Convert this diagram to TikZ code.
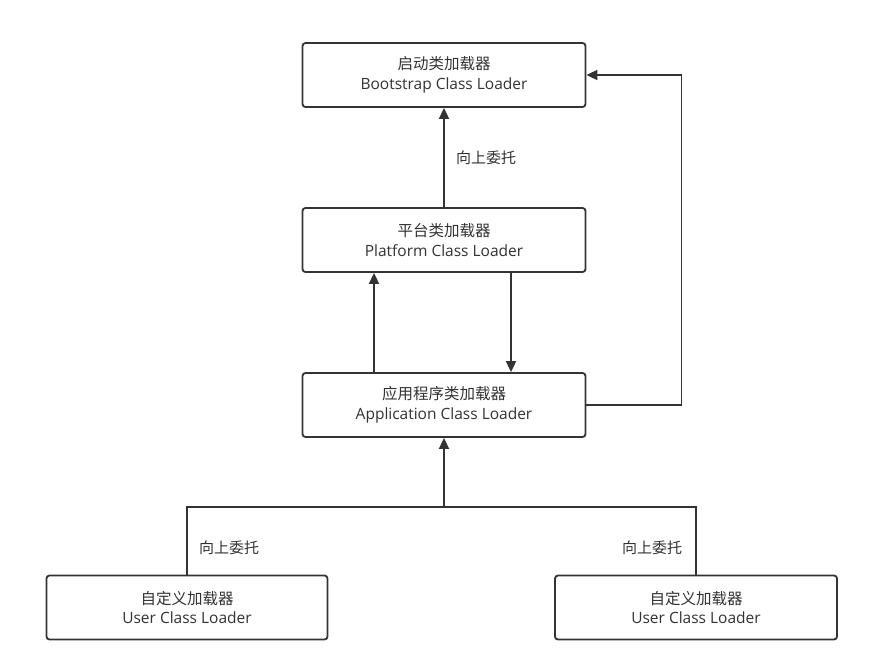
\documentclass[tikz,border=0pt]{standalone}
\usepackage{fontspec}
\setmainfont{Open Sans}
\newfontfamily\cjk{Noto Sans CJK SC}
\usetikzlibrary{arrows.meta}
\definecolor{ln}{HTML}{333333}
\definecolor{tx}{HTML}{333333}
\begin{document}
\begin{tikzpicture}[x=1pt,y=-1pt,
  box/.style={draw=ln,line width=1.8pt,rounded corners=3pt,minimum width=283pt,minimum height=64pt,
    align=center,text=tx,font=\fontsize{15.5}{20}\selectfont,inner sep=0pt},
  conn/.style={draw=ln,line width=1.8pt},
  arr/.style={conn,-{Triangle[length=11pt,width=10pt]}},
  cn/.style={font=\cjk\fontsize{15}{20}\selectfont},
  lbl/.style={text=tx,font=\cjk\fontsize{15}{18}\selectfont,inner sep=0pt}]
\fill[white] (0,0) rectangle (880,667);
\useasboundingbox (0,0) rectangle (880,667);
\node[box] (boot) at (444,75) {{\cjk 启动类加载器}\\Bootstrap Class Loader};
\node[box] (plat) at (444,240) {{\cjk 平台类加载器}\\Platform Class Loader};
\node[box] (app) at (444,405) {{\cjk 应用程序类加载器}\\Application Class Loader};
\node[box,minimum width=281pt] (ul) at (187,607.5) {{\cjk 自定义加载器}\\User Class Loader};
\node[box,minimum width=282pt] (ur) at (696,607.5) {{\cjk 自定义加载器}\\User Class Loader};
\draw[arr] (plat.north) -- (boot.south);
\node[lbl] (l1) at (486,158) {向上委托};
\draw[arr] ([xshift=-70pt]app.north) -- ([xshift=-70pt]plat.south);
\draw[arr] ([xshift=67pt]plat.south) -- ([xshift=67pt]app.north);
\draw[arr] (app.east) -- ++(95,0) |- (boot.east);
\coordinate (jn) at (444,507);
\draw[conn] (ul.north) |- (jn) -| (ur.north);
\draw[arr] (jn) -- (app.south);
\node[lbl] (l2) at (229,548) {向上委托};
\node[lbl] (l3) at (652,548) {向上委托};
\end{tikzpicture}
\end{document}
